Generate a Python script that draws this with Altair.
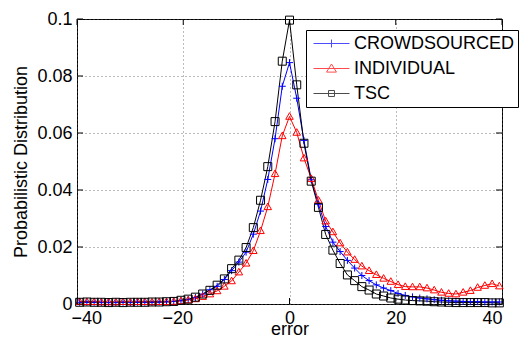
import altair as alt
import pandas as pd

# ---- data ----
x_pos = [-39.5, -38.14, -36.77, -35.41, -34.05, -32.69, -31.33, -29.96, -28.6, -27.24,
         -25.88, -24.52, -23.15, -21.79, -20.43, -19.07, -17.71, -16.34, -14.98, -13.62,
         -12.26, -10.9, -9.53, -8.17, -6.81, -5.45, -4.09, -2.72, -1.36, 0.0,
         1.36, 2.72, 4.09, 5.45, 6.81, 8.17, 9.53, 10.9, 12.26, 13.62,
         14.98, 16.34, 17.71, 19.07, 20.43, 21.79, 23.15, 24.52, 25.88, 27.24,
         28.6, 29.96, 31.33, 32.69, 34.05, 35.41, 36.77, 38.14, 39.5]

crowd = [0.0006, 0.0006, 0.0006, 0.0005, 0.0005, 0.0005, 0.0006, 0.0005, 0.0006, 0.0006,
         0.0006, 0.0007, 0.0008,
         0.0009, 0.0012, 0.0016, 0.0023, 0.0035, 0.0050, 0.0062, 0.0086, 0.0117, 0.0147,
         0.0182, 0.0245, 0.0326, 0.0437, 0.0580, 0.0764,
         0.0847,
         0.0722, 0.0574, 0.0436, 0.0350, 0.0272, 0.0217, 0.0184, 0.0153, 0.0126, 0.0100,
         0.0082, 0.0067, 0.0056, 0.0047, 0.0037, 0.0030, 0.0025, 0.0021, 0.0018, 0.0015,
         0.0013, 0.0011, 0.0010, 0.0009, 0.0008, 0.0008, 0.0007, 0.0007, 0.0007]

individual = [0.0008, 0.0008, 0.0008, 0.0007, 0.0007, 0.0007, 0.0008, 0.0007, 0.0008, 0.0008,
              0.0007, 0.0008, 0.0008,
              0.0009, 0.0011, 0.0014, 0.0018, 0.0026, 0.0035, 0.0046, 0.0062, 0.0081, 0.0112,
              0.0143, 0.0187, 0.0257, 0.0341, 0.0457, 0.0590,
              0.0658,
              0.0602, 0.0512, 0.0440, 0.0364, 0.0291, 0.0253, 0.0214, 0.0182, 0.0156, 0.0133,
              0.0117, 0.0103, 0.0090, 0.0079, 0.0068, 0.0061, 0.0060, 0.0060, 0.0056, 0.0049,
              0.0041, 0.0037, 0.0035, 0.0041, 0.0047, 0.0058, 0.0065, 0.0071, 0.0063]

tsc = [0.0006, 0.0007, 0.0006, 0.0006, 0.0005, 0.0006, 0.0005, 0.0006, 0.0006, 0.0006,
       0.0007, 0.0007, 0.0008,
       0.0009, 0.0013, 0.0017, 0.0024, 0.0035, 0.0048, 0.0066, 0.0088, 0.0124, 0.0154,
       0.0198, 0.0268, 0.0364, 0.0482, 0.0640, 0.0852,
       0.0996,
       0.0769, 0.0564, 0.0431, 0.0339, 0.0244, 0.0189, 0.0142, 0.0102, 0.0082, 0.0061,
       0.0049, 0.0035, 0.0028, 0.0021, 0.0017, 0.0014, 0.0012, 0.0011, 0.0010, 0.0008,
       0.0007, 0.0006, 0.0005, 0.0005, 0.0005, 0.0005, 0.0005, 0.0004, 0.0004]

series_names = ["CROWDSOURCED", "INDIVIDUAL", "TSC"]
series_colors = ["#0000ff", "#ff0000", "#000000"]

x_ticks = [-40, -20, 0, 20, 40]
y_ticks = [0, 0.02, 0.04, 0.06, 0.08, 0.1]

FONT = "Liberation Sans"

rows = []
for name, vals in zip(series_names, [crowd, individual, tsc]):
    for xv, yv in zip(x_pos, vals):
        rows.append({"error": xv, "p": yv, "series": name})
df = pd.DataFrame(rows)

# inward tick marks (MATLAB style), built from the tick lists
tick_len_y = 0.0021
tick_len_x = 1.13
trows = []
for t in x_ticks:
    trows.append({"error": t, "e2": t, "p": 0.0, "p2": tick_len_y})
    trows.append({"error": t, "e2": t, "p": 0.1, "p2": 0.1 - tick_len_y})
for t in y_ticks:
    trows.append({"error": -40, "e2": -40 + tick_len_x, "p": t, "p2": t})
    trows.append({"error": 40, "e2": 40 - tick_len_x, "p": t, "p2": t})
ticks_df = pd.DataFrame(trows)

xscale = alt.Scale(domain=[-40, 40], nice=False, zero=False)
yscale = alt.Scale(domain=[0, 0.1], nice=False)

color_scale = alt.Scale(domain=series_names, range=series_colors)
marker_paths = [
    "M-1,0H1M0,-1V1",
    "M0,-1L1,0.75L-1,0.75Z",
    "M-1,-1H1V1H-1Z",
]
legend_paths = [
    "M-1,0H3M1,-0.44V0.44",
    "M-1,0H3M1,-0.5L1.55,0.4L0.45,0.4Z",
    "M-1,0H3M0.67,-0.33H1.33V0.33H0.67Z",
]

xaxis = alt.Axis(title="error", values=x_ticks, format="d", grid=True, ticks=False,
                 domain=False, labelPadding=5, titleY=30, titleBaseline="alphabetic",
                 labelOffset={"condition": {"test": "datum.value < 0", "value": -6}, "value": 0})
yaxis = alt.Axis(title="Probabilistic Distribution", values=y_ticks, format="~g",
                 grid=True, ticks=False, domain=False, labelPadding=5,
                 titleX=-50.5, titleBaseline="alphabetic")

X = alt.X("error:Q", scale=xscale, axis=xaxis)
Y = alt.Y("p:Q", scale=yscale, axis=yaxis)

lines = alt.Chart(df).mark_line(strokeWidth=1).encode(
    x=X, y=Y,
    color=alt.Color("series:N", scale=color_scale, legend=None),
    detail="series:N",
)

points = alt.Chart(df).mark_point(filled=False, strokeWidth=1, opacity=1).encode(
    x=X, y=Y,
    color=alt.Color("series:N", scale=color_scale, legend=None),
    shape=alt.Shape("series:N", scale=alt.Scale(domain=series_names, range=marker_paths), legend=None),
    size=alt.Size("series:N", scale=alt.Scale(domain=series_names, range=[49, 64, 36]), legend=None),
)

ticks = alt.Chart(ticks_df).mark_rule(color="black", strokeWidth=1).encode(
    x=X, x2="e2:Q", y=Y, y2="p2:Q",
)

leg = alt.Legend(
    title=None, orient="none", legendX=229, legendY=11,
    strokeColor="black", fillColor="white", padding=4, symbolOffset=3,
    symbolSize=324, symbolStrokeWidth=1, labelFontSize=18, labelFont=FONT,
    labelColor="black", labelOffset=22, rowPadding=6, labelLimit=0)

legend_layer = alt.Chart(df).transform_filter("false").mark_point(filled=False, strokeWidth=1).encode(
    x=X, y=Y,
    color=alt.Color("series:N", scale=color_scale, legend=leg),
    shape=alt.Shape("series:N", scale=alt.Scale(domain=series_names, range=legend_paths), legend=leg),
)

chart = alt.layer(
    lines, points, ticks, legend_layer
).resolve_scale(
    color="independent", shape="independent"
).properties(
    width=425, height=285,
    padding={"left": 69, "top": 11, "right": 20, "bottom": 34},
    autosize=alt.AutoSizeParams(type="none"),
    background="white",
).configure_view(
    stroke="black", strokeWidth=1
).configure_axis(
    labelFont=FONT, titleFont=FONT, labelFontSize=18, titleFontSize=18,
    labelColor="black", titleColor="black", titleFontWeight="normal",
    gridColor="#555555", gridDash=[1, 3], gridWidth=1, gridOpacity=0.8,
)

chart.save("out.html", embed_options={"renderer": "svg", "actions": False})
